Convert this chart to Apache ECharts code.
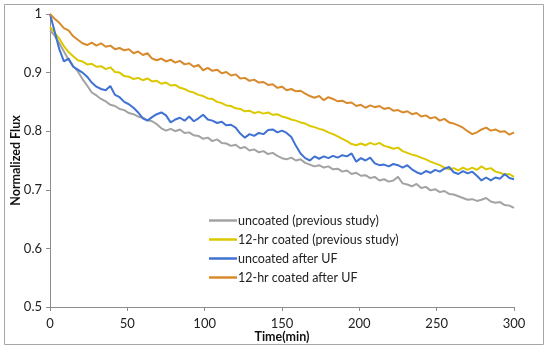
<!DOCTYPE html>
<html>
<head>
<meta charset="utf-8">
<script src="https://cdn.jsdelivr.net/npm/echarts@6/dist/echarts.min.js"></script>
<style>html,body{margin:0;padding:0;background:#fff}#c{width:550px;height:352px}</style>
</head>
<body>
<div id="c"></div>
<script>
var times = [0,3,6,9,12,15,18,21,24,27,30,33,36,39,42,45,48,51,54,57,60,63,66,69,72,75,78,81,84,87,90,93,96,99,102,105,108,111,114,117,120,123,126,129,132,135,138,141,144,147,150,153,156,159,162,165,168,171,174,177,180,183,186,189,192,195,198,201,204,207,210,213,216,219,222,225,228,231,234,237,240,243,246,249,252,255,258,261,264,267,270,273,276,279,282,285,288,291,294,297,300];

var seriesNames = ['uncoated (previous study)','12-hr coated (previous study)','uncoated after UF','12-hr coated after UF'];

var uncoatedPrev = [0.972,0.963,0.950,0.936,0.922,0.911,0.902,0.889,0.878,0.866,0.861,0.855,0.851,0.845,0.843,0.838,0.836,0.831,0.829,0.825,0.823,0.819,0.817,0.812,0.805,0.801,0.804,0.800,0.803,0.797,0.798,0.793,0.792,0.787,0.789,0.783,0.786,0.780,0.779,0.775,0.777,0.771,0.773,0.767,0.769,0.764,0.766,0.761,0.763,0.758,0.754,0.752,0.755,0.750,0.752,0.746,0.743,0.740,0.742,0.738,0.740,0.735,0.736,0.731,0.733,0.727,0.729,0.724,0.725,0.720,0.722,0.716,0.718,0.714,0.716,0.722,0.711,0.709,0.706,0.710,0.703,0.705,0.699,0.701,0.696,0.698,0.693,0.692,0.689,0.686,0.683,0.684,0.681,0.683,0.686,0.680,0.678,0.679,0.674,0.673,0.669];

var coatedPrev = [0.978,0.968,0.958,0.945,0.935,0.928,0.921,0.919,0.914,0.915,0.910,0.911,0.906,0.909,0.901,0.900,0.894,0.893,0.889,0.891,0.887,0.890,0.885,0.886,0.881,0.883,0.878,0.879,0.874,0.872,0.868,0.866,0.862,0.860,0.856,0.855,0.850,0.848,0.844,0.843,0.839,0.838,0.834,0.835,0.831,0.833,0.830,0.832,0.828,0.829,0.825,0.823,0.820,0.818,0.815,0.813,0.809,0.807,0.804,0.802,0.798,0.795,0.791,0.787,0.783,0.778,0.776,0.779,0.776,0.780,0.777,0.780,0.775,0.773,0.770,0.772,0.766,0.763,0.760,0.758,0.755,0.752,0.748,0.745,0.742,0.738,0.735,0.737,0.733,0.738,0.734,0.738,0.734,0.740,0.735,0.737,0.731,0.729,0.726,0.727,0.722];

var uncoatedUF = [1.000,0.970,0.940,0.919,0.924,0.910,0.905,0.900,0.893,0.883,0.876,0.872,0.870,0.877,0.862,0.858,0.850,0.846,0.840,0.832,0.822,0.818,0.824,0.829,0.832,0.827,0.815,0.820,0.823,0.818,0.825,0.817,0.822,0.828,0.820,0.818,0.814,0.816,0.810,0.811,0.806,0.796,0.789,0.795,0.792,0.797,0.795,0.802,0.803,0.798,0.801,0.797,0.790,0.775,0.762,0.754,0.750,0.757,0.753,0.757,0.754,0.758,0.755,0.759,0.757,0.762,0.748,0.754,0.750,0.755,0.745,0.742,0.743,0.740,0.744,0.742,0.738,0.742,0.735,0.730,0.727,0.732,0.729,0.734,0.731,0.736,0.739,0.730,0.727,0.732,0.728,0.731,0.724,0.716,0.721,0.716,0.721,0.719,0.727,0.720,0.718];

var coatedUF = [1.000,0.992,0.985,0.976,0.972,0.962,0.956,0.950,0.947,0.951,0.946,0.950,0.944,0.946,0.940,0.942,0.938,0.940,0.933,0.936,0.930,0.933,0.924,0.921,0.924,0.919,0.922,0.917,0.920,0.914,0.916,0.910,0.913,0.904,0.908,0.903,0.905,0.899,0.901,0.895,0.897,0.890,0.891,0.886,0.888,0.883,0.884,0.879,0.880,0.874,0.876,0.870,0.872,0.868,0.869,0.864,0.860,0.857,0.860,0.853,0.858,0.855,0.851,0.852,0.848,0.849,0.843,0.845,0.840,0.844,0.841,0.843,0.838,0.840,0.835,0.836,0.832,0.834,0.829,0.831,0.825,0.827,0.822,0.824,0.818,0.821,0.815,0.813,0.810,0.806,0.800,0.795,0.798,0.803,0.806,0.801,0.803,0.799,0.800,0.794,0.798];

var colors = ['#a3a3a3','#dcc800','#3f72d2','#d98a2c'];
var allValues = [uncoatedPrev, coatedPrev, uncoatedUF, coatedUF];

function pairs(vals){ return times.map(function(t,i){ return [t, vals[i]]; }); }

var font = 'Lato, "Open Sans", sans-serif';
var chart = echarts.init(document.getElementById('c'), null, {renderer:'canvas'});
chart.setOption({
  animation: false,
  textStyle: {fontFamily: font},
  graphic: [{type:'rect', shape:{x:4.5,y:4.5,width:539,height:340}, style:{fill:'none', stroke:'#a6a6a6', lineWidth:1}, z:-1}],
  grid: {left:50, right:36, top:14, bottom:45, containLabel:false, outerBoundsMode:'none'},
  legend: {
    orient:'vertical', left:204, top:209,
    icon:'rect', itemWidth:28, itemHeight:2.5, itemGap:6,
    textStyle:{fontFamily:font, fontSize:12.5, color:'#222', padding:[0,0,0,-4]},
    data: seriesNames
  },
  xAxis: {
    type:'value', min:0, max:300, interval:50,
    name:'Time(min)', nameLocation:'middle', nameGap:23, nameMoveOverlap:false,
    nameTextStyle:{fontFamily:font, fontWeight:'bold', fontSize:12.5, color:'#111'},
    axisLine:{lineStyle:{color:'#8c8c8c'}},
    axisTick:{show:true, inside:false, length:4, lineStyle:{color:'#8c8c8c'}},
    axisLabel:{fontFamily:font, fontSize:13, color:'#222', margin:10},
    splitLine:{show:false}
  },
  yAxis: {
    type:'value', min:0.5, max:1, interval:0.1,
    name:'Normalized Flux', nameLocation:'middle', nameGap:28, nameRotate:90, nameMoveOverlap:false,
    nameTextStyle:{fontFamily:font, fontWeight:'bold', fontSize:12.5, color:'#111'},
    axisLine:{show:true, lineStyle:{color:'#8c8c8c'}},
    axisTick:{show:true, inside:false, length:4, lineStyle:{color:'#8c8c8c'}},
    axisLabel:{fontFamily:font, fontSize:13, color:'#222', margin:8,
      formatter:function(v){ return Math.abs(v-1)<1e-9 ? '1' : v.toFixed(1); }},
    splitLine:{show:false}
  },
  series: seriesNames.map(function(n,i){
    return {name:n, type:'line', data:pairs(allValues[i]), symbol:'none', smooth:false,
      lineStyle:{color:colors[i], width:2}, itemStyle:{color:colors[i]}};
  })
});
</script>
</body>
</html>
